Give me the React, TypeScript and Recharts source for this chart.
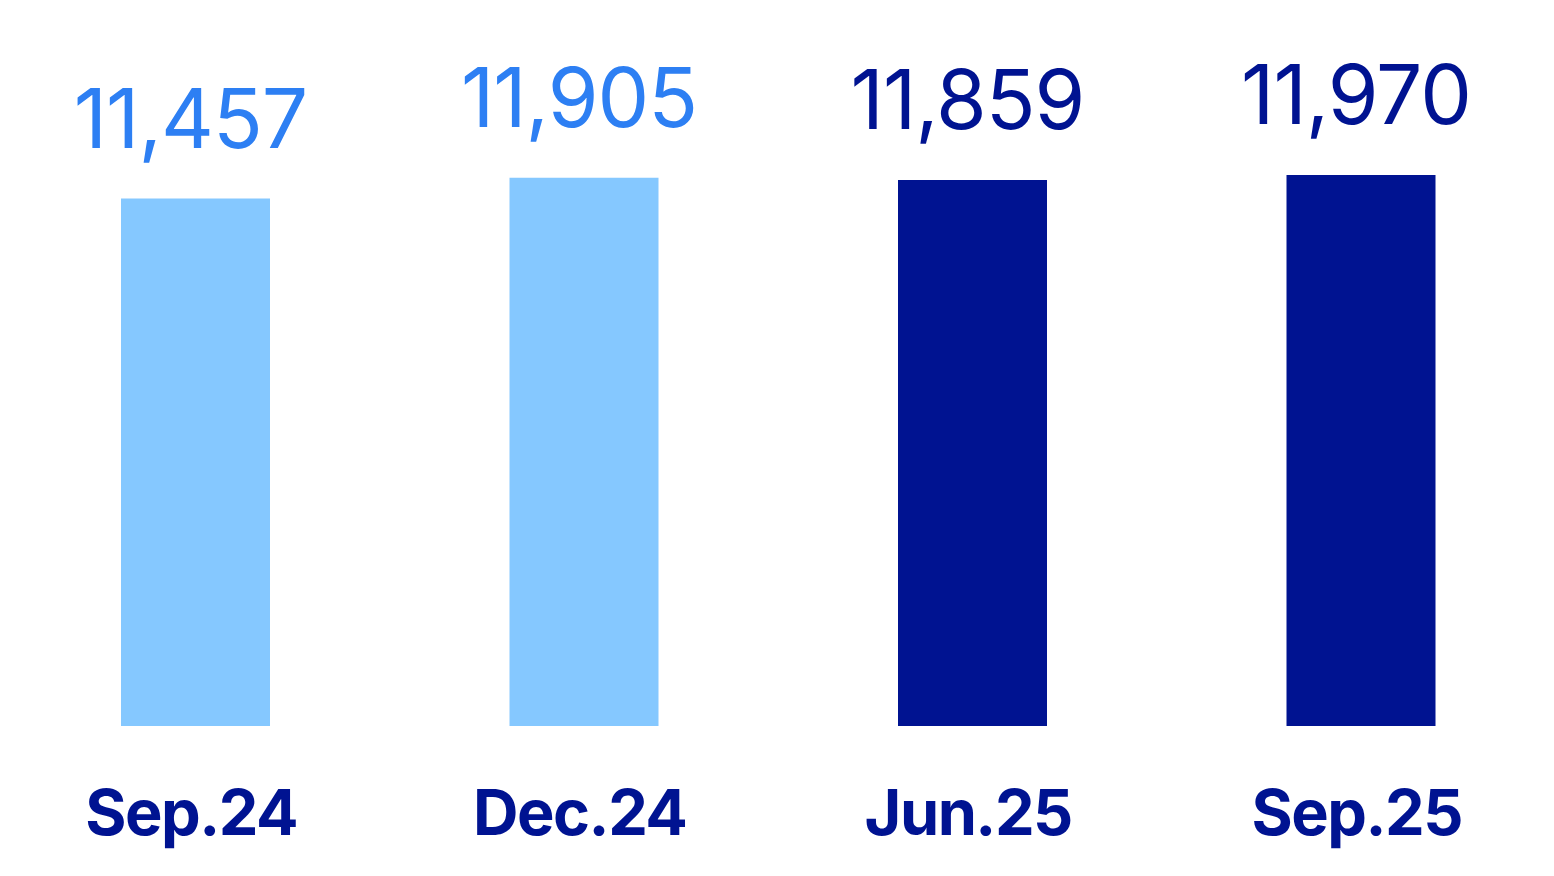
import React from "react";
import { BarChart, Bar, XAxis, YAxis, Cell, LabelList } from "recharts";

const categories = ["Sep.24", "Dec.24", "Jun.25", "Sep.25"];
const values = [11457, 11905, 11859, 11970];
const barColors = ["#85C8FF", "#85C8FF", "#001391", "#001391"];
const labelColors = ["#2D7FF3", "#2D7FF3", "#001391", "#001391"];

const data = categories.map((c, i) => ({ name: c, value: values[i], idx: i }));

const fmt = (v: number) => v.toLocaleString("en-US");

const ValueLabel = (props: any) => {
  const { x, y, width, value, index } = props;
  return (
    <text
      x={x + width / 2 - 5}
      y={y - 51}
      textAnchor="middle"
      fill={labelColors[index]}
      fontFamily="Inter, sans-serif"
      fontWeight={400}
      fontSize={82}
      letterSpacing={-1}
    >
      {fmt(value)}
    </text>
  );
};

const CatTick = (props: any) => {
  const { x, y, payload } = props;
  return (
    <text
      x={x - 4}
      y={y + 101}
      textAnchor="middle"
      fill="#001391"
      fontFamily="Inter, sans-serif"
      fontWeight={700}
      fontSize={63}
      letterSpacing={-1.5}
    >
      {payload.value}
    </text>
  );
};

export default function App() {
  return (
    <div style={{ position: "absolute", left: 0, top: 0, width: 1554, height: 876, background: "#fff" }}>
      <BarChart
        width={1554}
        height={876}
        data={data}
        margin={{ top: 173.5, right: -1, bottom: 0, left: 1 }}
        barCategoryGap={0}
      >
        <XAxis
          dataKey="name"
          axisLine={false}
          tickLine={false}
          height={150}
          tick={<CatTick />}
          interval={0}
        />
        <YAxis hide domain={[0, 12000]} />
        <Bar dataKey="value" barSize={149} isAnimationActive={false}>
          {data.map((d, i) => (
            <Cell key={i} fill={barColors[i]} />
          ))}
          <LabelList dataKey="value" content={<ValueLabel />} />
        </Bar>
      </BarChart>
    </div>
  );
}
